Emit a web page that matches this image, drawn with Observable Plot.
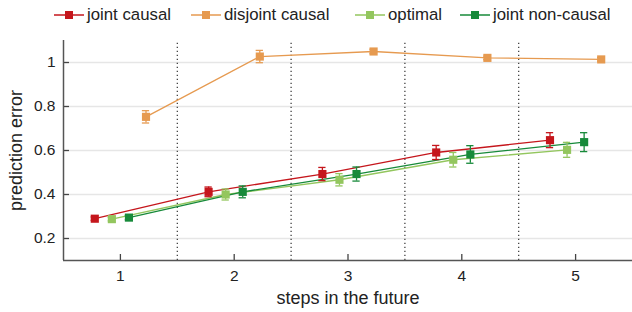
<!DOCTYPE html>
<html>
<head>
<meta charset="utf-8">
<script src="https://cdn.jsdelivr.net/npm/d3@7"></script>
<script src="https://cdn.jsdelivr.net/npm/@observablehq/plot@0.6"></script>
<style>
  body { margin: 0; background: #fff; font-family: "Liberation Sans", Arial, sans-serif; }
  #legend { position: relative; height: 32px; width: 632px; }
  .item { position: absolute; top: 4px; height: 22px; display: flex; align-items: center; font-size: 16.8px; color: #222; white-space: nowrap; }
  .item svg { margin-right: 3px; }
</style>
</head>
<body>
<div id="legend"></div>
<div id="chart"></div>
<script>
const steps = [1, 2, 3, 4, 5];
const seriesNames = ["joint causal", "disjoint causal", "optimal", "joint non-causal"];
const colors = ["#c5161c", "#e69a50", "#93c65e", "#178a3a"];
const offsets = [-0.225, 0.225, -0.075, 0.075];
const jointCausal    = [0.290, 0.412, 0.493, 0.591, 0.647];
const jointCausalErr = [0.008, 0.022, 0.030, 0.032, 0.034];
const disjointCausal    = [0.753, 1.027, 1.050, 1.021, 1.014];
const disjointCausalErr = [0.028, 0.028, 0.010, 0.008, 0.008];
const optimal    = [0.288, 0.400, 0.467, 0.558, 0.603];
const optimalErr = [0.008, 0.025, 0.028, 0.033, 0.034];
const jointNonCausal    = [0.295, 0.412, 0.493, 0.582, 0.638];
const jointNonCausalErr = [0.010, 0.027, 0.032, 0.040, 0.043];
const yTicks = [0.2, 0.4, 0.6, 0.8, 1.0];
const separators = [1.5, 2.5, 3.5, 4.5];

const values = [jointCausal, disjointCausal, optimal, jointNonCausal];
const errs = [jointCausalErr, disjointCausalErr, optimalErr, jointNonCausalErr];
const data = [];
seriesNames.forEach((name, i) => {
  steps.forEach((s, j) => {
    data.push({series: name, step: s, x: s + offsets[i], y: values[i][j], lo: values[i][j] - errs[i][j], hi: values[i][j] + errs[i][j]});
  });
});

// legend
const legend = document.getElementById("legend");
const legendX = [54, 191, 355, 460];
seriesNames.forEach((name, i) => {
  const div = document.createElement("div");
  div.className = "item";
  div.style.left = legendX[i] + "px";
  div.innerHTML = `<svg width="30" height="12"><line x1="0" x2="30" y1="6" y2="6" stroke="${colors[i]}" stroke-width="1.5"/><rect x="11" y="2" width="8" height="8" fill="${colors[i]}"/></svg><span>${name}</span>`;
  legend.appendChild(div);
});

const color = {domain: seriesNames, range: colors};
const capW = 0.032;
const fmtY = d => d === 1 ? "1" : d3.format(".1f")(d);
const chart = Plot.plot({
  width: 632,
  height: 280,
  marginTop: 8,
  marginBottom: 52,
  marginLeft: 63,
  marginRight: 0,
  style: {fontFamily: "Liberation Sans, Arial, sans-serif", fontSize: "15.5px", color: "#222", background: "#fff"},
  x: {domain: [0.5, 5.5], label: null},
  y: {domain: [0.1, 1.1], label: null},
  color,
  marks: [
    Plot.ruleY(yTicks, {y: d => d, stroke: "#e6e6e6", strokeWidth: 1.5}),
    Plot.ruleX(separators, {x: d => d, y1: 0.1, y2: 1.1, stroke: "#333", strokeDasharray: "1.2,2.8", strokeWidth: 1.2}),
    Plot.ruleX(steps, {x: d => d, y1: 0.1, y2: 0.1 + 6 / 220, stroke: "#444", strokeWidth: 1.3}),
    Plot.ruleY(yTicks, {y: d => d, x1: 0.5, x2: 0.5 + 6 / 114, stroke: "#444", strokeWidth: 1.3}),
    Plot.ruleX([0.5], {x: d => d, y1: 0.1, y2: 1.1, stroke: "#555", strokeWidth: 1.5}),
    Plot.ruleY([0.1], {y: d => d, x1: 0.5, x2: 5.5, stroke: "#555", strokeWidth: 1.5}),
    Plot.line(data, {x: "x", y: "y", z: "series", stroke: "series", strokeWidth: 1.3}),
    Plot.ruleX(data, {x: "x", y1: "lo", y2: "hi", stroke: "series", strokeWidth: 1.3}),
    Plot.ruleY(data, {y: "lo", x1: d => d.x - capW, x2: d => d.x + capW, stroke: "series", strokeWidth: 1.3}),
    Plot.ruleY(data, {y: "hi", x1: d => d.x - capW, x2: d => d.x + capW, stroke: "series", strokeWidth: 1.3}),
    Plot.dot(data, {x: "x", y: "y", fill: "series", symbol: "square", r: 4.6, stroke: "none"}),
    Plot.axisX({ticks: steps, tickSize: 0, tickPadding: 9, tickFormat: d => d, label: null, fontSize: 15.5}),
    Plot.axisY({ticks: yTicks, tickSize: 0, tickPadding: 8, tickFormat: fmtY, label: null, fontSize: 15.5}),
    Plot.text(["steps in the future"], {frameAnchor: "bottom", lineAnchor: "middle", dy: 38, fontSize: 18, fill: "#222", text: d => d}),
    Plot.text(["prediction error"], {frameAnchor: "left", textAnchor: "middle", lineAnchor: "middle", dx: -47, rotate: -90, fontSize: 18, fill: "#222", text: d => d})
  ]
});
document.getElementById("chart").appendChild(chart);
</script>
</body>
</html>
